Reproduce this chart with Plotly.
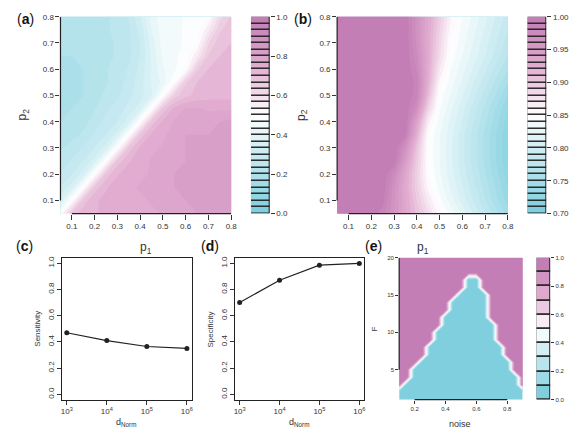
import plotly.graph_objects as go
from plotly.colors import sample_colorscale

W, H = 585, 435
FONT = "Liberation Sans, Arial, sans-serif"
INK = "#333333"
LINE = "#222222"

# ---------------- data ----------------
p_grid = [0.05, 0.10, 0.15, 0.20, 0.25, 0.30, 0.35, 0.40,
          0.45, 0.50, 0.55, 0.60, 0.65, 0.70, 0.75, 0.80]
p_ticks = [0.1, 0.2, 0.3, 0.4, 0.5, 0.6, 0.7, 0.8]
p_ticktext = ["0.1", "0.2", "0.3", "0.4", "0.5", "0.6", "0.7", "0.8"]

# panel (a): rows = p2 (0.05 .. 0.80), columns = p1 (0.05 .. 0.80)
a_z = [
    [0.50, 0.68, 0.72, 0.73, 0.74, 0.75, 0.75, 0.76, 0.76, 0.77, 0.78, 0.79, 0.80, 0.80, 0.80, 0.80],
    [0.35, 0.50, 0.68, 0.73, 0.74, 0.75, 0.76, 0.76, 0.77, 0.78, 0.79, 0.80, 0.80, 0.80, 0.80, 0.80],
    [0.30, 0.35, 0.50, 0.68, 0.73, 0.75, 0.76, 0.77, 0.77, 0.78, 0.80, 0.80, 0.80, 0.80, 0.80, 0.80],
    [0.27, 0.30, 0.35, 0.50, 0.68, 0.73, 0.75, 0.76, 0.77, 0.78, 0.80, 0.80, 0.81, 0.80, 0.80, 0.80],
    [0.25, 0.27, 0.30, 0.35, 0.50, 0.68, 0.73, 0.75, 0.77, 0.78, 0.79, 0.80, 0.81, 0.81, 0.80, 0.80],
    [0.23, 0.25, 0.27, 0.30, 0.35, 0.50, 0.68, 0.74, 0.76, 0.77, 0.79, 0.80, 0.80, 0.81, 0.82, 0.81],
    [0.21, 0.22, 0.24, 0.27, 0.30, 0.35, 0.50, 0.68, 0.74, 0.76, 0.78, 0.80, 0.80, 0.80, 0.82, 0.82],
    [0.20, 0.21, 0.22, 0.25, 0.28, 0.30, 0.35, 0.50, 0.68, 0.74, 0.77, 0.79, 0.79, 0.79, 0.80, 0.81],
    [0.19, 0.20, 0.21, 0.23, 0.26, 0.28, 0.31, 0.35, 0.50, 0.68, 0.74, 0.77, 0.77, 0.76, 0.76, 0.76],
    [0.19, 0.19, 0.20, 0.22, 0.24, 0.26, 0.29, 0.32, 0.36, 0.50, 0.65, 0.69, 0.71, 0.72, 0.72, 0.72],
    [0.19, 0.19, 0.20, 0.21, 0.23, 0.25, 0.28, 0.32, 0.37, 0.41, 0.50, 0.66, 0.70, 0.71, 0.72, 0.72],
    [0.19, 0.19, 0.20, 0.21, 0.23, 0.25, 0.27, 0.31, 0.37, 0.43, 0.46, 0.50, 0.66, 0.70, 0.71, 0.72],
    [0.20, 0.20, 0.20, 0.21, 0.22, 0.24, 0.26, 0.30, 0.37, 0.44, 0.46, 0.48, 0.56, 0.67, 0.70, 0.71],
    [0.20, 0.20, 0.21, 0.21, 0.22, 0.24, 0.26, 0.30, 0.38, 0.45, 0.46, 0.47, 0.50, 0.63, 0.69, 0.70],
    [0.20, 0.20, 0.21, 0.22, 0.23, 0.24, 0.26, 0.31, 0.40, 0.45, 0.46, 0.47, 0.48, 0.56, 0.66, 0.69],
    [0.21, 0.21, 0.21, 0.22, 0.23, 0.24, 0.27, 0.33, 0.42, 0.45, 0.46, 0.47, 0.47, 0.50, 0.62, 0.67],
]

# panel (b): rows = p2 (0.05 .. 0.80), columns = p1 (0.05 .. 0.80)
b_z = [
    [0.999, 0.999, 0.999, 0.999, 0.984, 0.959, 0.933, 0.907, 0.881, 0.855, 0.836, 0.817, 0.799, 0.781, 0.763, 0.745],
    [0.999, 0.999, 0.999, 0.999, 0.994, 0.963, 0.931, 0.900, 0.869, 0.843, 0.825, 0.807, 0.789, 0.771, 0.753, 0.735],
    [0.999, 0.999, 0.999, 0.999, 0.999, 0.964, 0.929, 0.893, 0.857, 0.836, 0.818, 0.801, 0.783, 0.765, 0.748, 0.730],
    [0.999, 0.999, 0.999, 0.999, 0.999, 0.975, 0.933, 0.892, 0.850, 0.832, 0.814, 0.796, 0.779, 0.761, 0.743, 0.725],
    [0.999, 0.999, 0.999, 0.999, 0.999, 0.999, 0.948, 0.897, 0.848, 0.830, 0.812, 0.793, 0.775, 0.757, 0.739, 0.720],
    [0.999, 0.999, 0.999, 0.999, 0.999, 0.999, 0.964, 0.904, 0.848, 0.830, 0.812, 0.793, 0.775, 0.757, 0.739, 0.720],
    [0.999, 0.999, 0.999, 0.999, 0.999, 0.999, 0.993, 0.921, 0.850, 0.831, 0.813, 0.794, 0.776, 0.757, 0.739, 0.720],
    [0.999, 0.999, 0.999, 0.999, 0.999, 0.999, 0.999, 0.940, 0.865, 0.835, 0.817, 0.799, 0.780, 0.762, 0.744, 0.725],
    [0.999, 0.999, 0.999, 0.999, 0.999, 0.999, 0.999, 0.968, 0.889, 0.841, 0.822, 0.804, 0.785, 0.767, 0.748, 0.730],
    [0.999, 0.999, 0.999, 0.999, 0.999, 0.999, 0.999, 0.985, 0.910, 0.846, 0.829, 0.811, 0.793, 0.775, 0.758, 0.740],
    [0.999, 0.999, 0.999, 0.999, 0.999, 0.999, 0.999, 0.987, 0.922, 0.857, 0.835, 0.818, 0.801, 0.784, 0.767, 0.750],
    [0.999, 0.999, 0.999, 0.999, 0.999, 0.999, 0.999, 0.979, 0.925, 0.871, 0.840, 0.824, 0.808, 0.792, 0.776, 0.760],
    [0.999, 0.999, 0.999, 0.999, 0.999, 0.999, 0.999, 0.973, 0.927, 0.882, 0.845, 0.830, 0.815, 0.800, 0.785, 0.770],
    [0.999, 0.999, 0.999, 0.999, 0.999, 0.999, 0.999, 0.968, 0.927, 0.886, 0.849, 0.834, 0.819, 0.804, 0.790, 0.775],
    [0.999, 0.999, 0.999, 0.999, 0.999, 0.999, 0.999, 0.966, 0.929, 0.891, 0.854, 0.837, 0.823, 0.809, 0.794, 0.780],
    [0.999, 0.999, 0.999, 0.999, 0.999, 0.999, 0.999, 0.965, 0.930, 0.895, 0.860, 0.840, 0.827, 0.813, 0.799, 0.785],
]

# panel (e): noise (columns) x F (rows, 1..20); 1 = pink region, 0 = cyan region
e_noise = [0.10, 0.15, 0.20, 0.25, 0.30, 0.35, 0.40, 0.45, 0.50,
           0.55, 0.60, 0.65, 0.70, 0.75, 0.80, 0.85, 0.90]
e_F = [1, 2, 3, 4, 5, 6, 7, 8, 9, 10, 11, 12, 13, 14, 15, 16, 17, 18, 19, 20]
e_rows = [
    "00000000000000000",  # F=1
    "00000000000000000",  # F=2
    "10000000000000001",  # F=3
    "11000000000000001",  # F=4
    "11000000000000011",  # F=5
    "11100000000000011",  # F=6
    "11110000000000111",  # F=7
    "11110000000000111",  # F=8
    "11111000000001111",  # F=9
    "11111000000001111",  # F=10
    "11111100000001111",  # F=11
    "11111100000011111",  # F=12
    "11111110000011111",  # F=13
    "11111110000011111",  # F=14
    "11111111000011111",  # F=15
    "11111111100111111",  # F=16
    "11111111100111111",  # F=17
    "11111111111111111",  # F=18
    "11111111111111111",  # F=19
    "11111111111111111",  # F=20
]
e_z = [[int(ch) for ch in row] for row in e_rows]
e_xticks = [0.2, 0.4, 0.6, 0.8]
e_yticks = [5, 10, 15, 20]

# panels (c), (d)
d_norm = [1e3, 1e4, 1e5, 1e6]
d_ticktext = ["10<sup>3</sup>", "10<sup>4</sup>", "10<sup>5</sup>", "10<sup>6</sup>"]
sensitivity = [0.47, 0.41, 0.365, 0.35]
specificity = [0.70, 0.87, 0.985, 0.998]
cd_yticks = [0.0, 0.2, 0.4, 0.6, 0.8, 1.0]
cd_ytext = ["0.0", "0.2", "0.4", "0.6", "0.8", "1.0"]

# colour keys
cb_a_levels = 30
cb_a_ticks = [0.0, 0.2, 0.4, 0.6, 0.8, 1.0]
cb_a_text = ["0.0", "0.2", "0.4", "0.6", "0.8", "1.0"]
cb_b_levels = 30
cb_b_ticks = [0.70, 0.75, 0.80, 0.85, 0.90, 0.95, 1.00]
cb_b_text = ["0.70", "0.75", "0.80", "0.85", "0.90", "0.95", "1.00"]
cb_e_levels = 10
cb_e_ticks = [0.0, 0.2, 0.4, 0.6, 0.8, 1.0]
cb_e_text = ["0.0", "0.2", "0.4", "0.6", "0.8", "1.0"]

cscale = [[0.0, "#7FCFDF"], [0.25, "#BFE7EF"], [0.5, "#FFFFFF"],
          [0.75, "#E2AED0"], [1.0, "#C37EB6"]]

# ---------------- helpers ----------------
def dx(x0, x1):
    return [x0 / W, x1 / W]

def dy(y0, y1):
    return [1 - y1 / H, 1 - y0 / H]

def px(x):
    return x / W

def py(y):
    return 1 - y / H

fig = go.Figure()

def add_contour(x, y, z, lo, hi, n, xa, ya):
    size = (hi - lo) / n
    fig.add_trace(go.Contour(
        x=x, y=y, z=z, colorscale=cscale, autocontour=False,
        contours=dict(start=lo + size, end=hi - size * 0.999, size=size,
                      coloring="fill", showlines=False),
        line=dict(width=0, smoothing=0), showscale=False, hoverinfo="skip",
        xaxis=xa, yaxis=ya))

def add_key(lo, hi, n, xa, ya):
    step = (hi - lo) / n
    cols = sample_colorscale(cscale, [k / (n - 1) for k in range(n)])
    fig.add_trace(go.Bar(
        x=[0.5] * n, y=[step] * n, base=[lo + k * step for k in range(n)],
        width=1.0, marker=dict(color=cols, line=dict(color=LINE, width=1.3)),
        cliponaxis=False, showlegend=False, hoverinfo="skip",
        xaxis=xa, yaxis=ya))

add_contour(p_grid, p_grid, a_z, 0.0, 1.0, cb_a_levels, "x", "y")
add_key(0.0, 1.0, cb_a_levels, "x2", "y2")
add_contour(p_grid, p_grid, b_z, 0.7, 1.0, cb_b_levels, "x3", "y3")
add_key(0.7, 1.0, cb_b_levels, "x4", "y4")
add_contour(e_noise, e_F, e_z, 0.0, 1.0, cb_e_levels, "x7", "y7")
add_key(0.0, 1.0, cb_e_levels, "x8", "y8")

for vals, xa, ya in [(sensitivity, "x5", "y5"), (specificity, "x6", "y6")]:
    fig.add_trace(go.Scatter(
        x=d_norm, y=vals, mode="lines+markers",
        line=dict(color=LINE, width=1.2),
        marker=dict(color=LINE, size=5),
        showlegend=False, hoverinfo="skip", xaxis=xa, yaxis=ya))

tf = dict(family=FONT, size=8, color=INK)
tf_small = dict(family=FONT, size=6, color=INK)
base_ax = dict(showgrid=False, zeroline=False, showline=False,
               ticks="outside", ticklen=4, tickwidth=1, tickcolor=INK)

layout = dict(
    width=W, height=H, margin=dict(l=0, r=0, t=0, b=0),
    paper_bgcolor="white", plot_bgcolor="white",
    font=dict(family=FONT, color=INK), showlegend=False, bargap=0,
)

# panel a
layout["xaxis"] = dict(base_ax, domain=dx(60.2, 233), range=[0.05, 0.8], anchor="y",
                       tickvals=p_ticks, ticktext=p_ticktext, tickfont=tf, ticklen=5)
layout["yaxis"] = dict(base_ax, domain=dy(13, 214), range=[0.05, 0.8], anchor="x",
                       tickvals=p_ticks, ticktext=p_ticktext, tickfont=tf)
# key a
layout["xaxis2"] = dict(domain=dx(253, 272), range=[0, 1], anchor="y2", visible=False)
layout["yaxis2"] = dict(base_ax, domain=dy(13, 214), range=[0, 1], anchor="x2", side="right",
                        tickvals=cb_a_ticks, ticktext=cb_a_text, tickfont=tf)
# panel b
layout["xaxis3"] = dict(base_ax, domain=dx(340.2, 513), range=[0.05, 0.8], anchor="y3",
                        tickvals=p_ticks, ticktext=p_ticktext, tickfont=tf, ticklen=5)
layout["yaxis3"] = dict(base_ax, domain=dy(13, 214), range=[0.05, 0.8], anchor="x3",
                        tickvals=p_ticks, ticktext=p_ticktext, tickfont=tf)
# key b
layout["xaxis4"] = dict(domain=dx(533, 552), range=[0, 1], anchor="y4", visible=False)
layout["yaxis4"] = dict(base_ax, domain=dy(13, 214), range=[0.7, 1.0], anchor="x4", side="right",
                        tickvals=cb_b_ticks, ticktext=cb_b_text, tickfont=tf)
# panels c, d
for i, (x0, x1) in [(5, (61.7, 193)), (6, (236.7, 367.5))]:
    layout[f"xaxis{i}"] = dict(base_ax, domain=dx(x0, x1), type="log", range=[2.88, 6.12],
                               anchor=f"y{i}", tickvals=d_norm, ticktext=d_ticktext,
                               tickfont=dict(family=FONT, size=8, color=INK),
                               showline=True, mirror=True, linecolor=LINE, linewidth=1.2)
    layout[f"yaxis{i}"] = dict(base_ax, domain=dy(259.3, 404), range=[-0.04, 1.04],
                               anchor=f"x{i}", tickvals=cd_yticks, ticktext=cd_ytext,
                               tickangle=-90, tickfont=tf,
                               showline=True, mirror=True, linecolor=LINE, linewidth=1.2)
# panel e
layout["xaxis7"] = dict(base_ax, domain=dx(403, 528), range=[0.1, 0.9], anchor="y7",
                        tickvals=e_xticks, ticktext=["0.2", "0.4", "0.6", "0.8"],
                        tickfont=tf_small, ticklen=3)
layout["yaxis7"] = dict(base_ax, domain=dy(259, 404), range=[1, 20], anchor="x7",
                        tickvals=e_yticks, ticktext=["5", "10", "15", "20"],
                        tickfont=tf_small, ticklen=3)
layout["xaxis8"] = dict(domain=dx(542, 556), range=[0, 1], anchor="y8", visible=False)
layout["yaxis8"] = dict(base_ax, domain=dy(259, 404), range=[0, 1], anchor="x8", side="right",
                        tickvals=cb_e_ticks, ticktext=cb_e_text, tickfont=tf_small, ticklen=3)

fig.update_layout(**layout)

# R-style axis lines spanning first..last tick
shapes = []
for xa, ya, xt, yt in [("x", "y", p_ticks, p_ticks), ("x3", "y3", p_ticks, p_ticks),
                       ("x7", "y7", e_xticks, e_yticks)]:
    shapes.append(dict(type="line", xref=xa, yref=f"{ya} domain", x0=xt[0], x1=xt[-1],
                       y0=0, y1=0, line=dict(color=LINE, width=1.2)))
    shapes.append(dict(type="line", xref=f"{xa} domain", yref=ya, x0=0, x1=0,
                       y0=yt[0], y1=yt[-1], line=dict(color=LINE, width=1.2)))
fig.update_layout(shapes=shapes)

ann = []
def text(x, y, s, size, angle=0, color=INK):
    ann.append(dict(x=px(x), y=py(y), xref="paper", yref="paper", text=s, showarrow=False,
                    textangle=angle, xanchor="center", yanchor="middle",
                    font=dict(family=FONT, size=size, color=color)))

# panel letters
text(25, 15, "(<b>a</b>)", 14, color="#111")
text(306, 15, "(<b>b</b>)", 14, color="#111")
text(23.5, 247, "(<b>c</b>)", 14, color="#111")
text(211.5, 247, "(<b>d</b>)", 14, color="#111")
text(377, 247, "(<b>e</b>)", 14, color="#111")
# axis titles
text(147, 249, "p<sub>1</sub>", 12)
text(427, 249, "p<sub>1</sub>", 12)
text(22, 113, "p<sub>2</sub>", 12, angle=-90)
text(304, 113, "p<sub>2</sub>", 12, angle=-90)
text(37, 332, "Sensitivity", 8, angle=-90)
text(212, 332, "Specificity", 8, angle=-90)
text(127, 427, "d<sub>Norm</sub>", 9)
text(302, 427, "d<sub>Norm</sub>", 9)
text(465, 429, "noise", 9)
text(378, 332, "F", 8, angle=-90)
fig.update_layout(annotations=ann)

fig.write_html("out.html")
